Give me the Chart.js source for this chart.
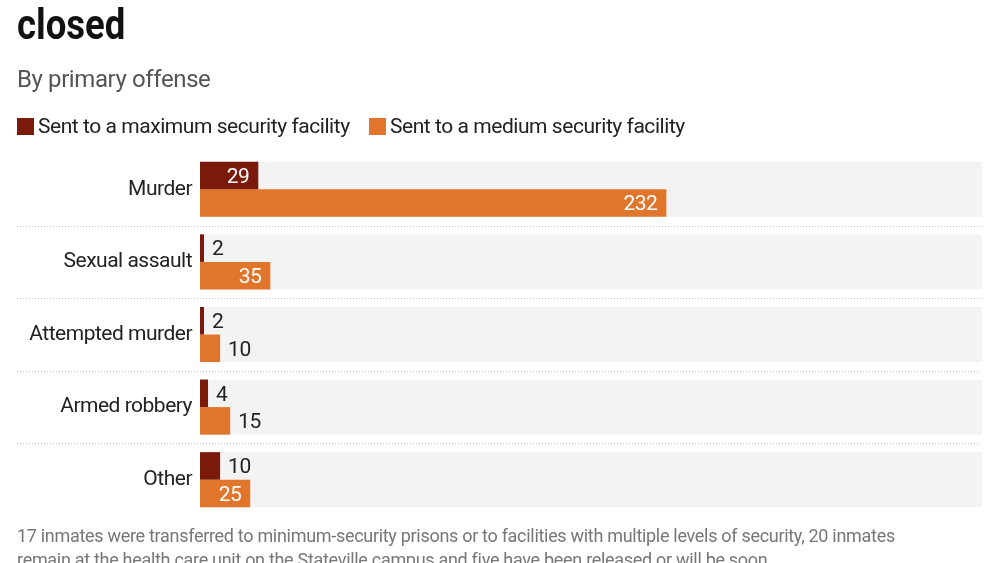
<!DOCTYPE html>
<html>
<head>
<meta charset="utf-8">
<script src="https://cdn.jsdelivr.net/npm/chart.js@4"></script>
<style>
  html, body { margin: 0; padding: 0; background: #fff; }
  body { width: 1000px; height: 563px; overflow: hidden; position: relative; font-family: "Roboto", sans-serif; }
  #chart { position: absolute; left: 0; top: 0; }
  .title { position: absolute; left: 17px; top: 0px; font-size: 42px; font-weight: bold; color: #111; transform: scaleX(0.87); transform-origin: left top; }
  .sub { position: absolute; left: 17px; top: 65px; font-size: 24px; letter-spacing: -0.4px; color: #555; }
  .legend { position: absolute; top: 114px; font-size: 21px; letter-spacing: -0.45px; color: #222; white-space: nowrap; }
  .legend span.box { display: inline-block; width: 17px; height: 17px; vertical-align: -2px; margin-right: 4px; }
  .note { position: absolute; left: 17px; top: 524px; width: 900px; font-size: 18px; letter-spacing: -0.3px; line-height: 24px; color: #777; }
</style>
</head>
<body>
<canvas id="chart" width="1000" height="563"></canvas>
<div class="title">closed</div>
<div class="sub">By primary offense</div>
<div class="legend" style="left:17px"><span class="box" style="background:#7b1a0b"></span>Sent to a maximum security facility</div>
<div class="legend" style="left:369px"><span class="box" style="background:#e0752b"></span>Sent to a medium security facility</div>
<div class="note">17 inmates were transferred to minimum-security prisons or to facilities with multiple levels of security, 20 inmates remain at the health care unit on the Stateville campus and five have been released or will be soon.</div>

<script>
    const offenses = ['Murder', 'Sexual assault', 'Attempted murder', 'Armed robbery', 'Other'];
    const maxSecurity = [29, 2, 2, 4, 10];
    const mediumSecurity = [232, 35, 10, 15, 25];

    const FONT = '"Roboto", sans-serif';

    // tighter letters, the original uses a condensed face
    const spacingPlugin = {
        id: 'spacing',
        beforeDraw(chart) { chart.ctx.letterSpacing = '-0.5px'; }
    };

    // gray bands + dotted separators
    const bandPlugin = {
        id: 'bands',
        beforeDatasetsDraw(chart) {
            const c = chart.ctx, a = chart.chartArea, y = chart.scales.y;
            const step = y.getPixelForValue(1) - y.getPixelForValue(0);
            const band = step * chart.options.datasets.bar.categoryPercentage;
            c.save();
            offenses.forEach((o, i) => {
                const cy = y.getPixelForValue(i);
                c.fillStyle = '#f3f3f3';
                c.fillRect(a.left, cy - band / 2, a.right - a.left, band);
                if (i < offenses.length - 1) {
                    c.strokeStyle = '#c8c8c8';
                    c.lineWidth = 1;
                    c.setLineDash([1, 2]);
                    c.beginPath();
                    c.moveTo(17, Math.round(cy + step / 2) + 0.5);
                    c.lineTo(a.right, Math.round(cy + step / 2) + 0.5);
                    c.stroke();
                }
            });
            c.restore();
        }
    };

    // value labels: inside in white when they fit, else to the right
    const labelPlugin = {
        id: 'vals',
        afterDatasetsDraw(chart) {
            const c = chart.ctx;
            c.save();
            c.font = '21px ' + FONT;
            c.textBaseline = 'middle';
            chart.data.datasets.forEach((ds, di) => {
                chart.getDatasetMeta(di).data.forEach((bar, i) => {
                    const txt = String(ds.data[i]);
                    const w = c.measureText(txt).width;
                    const bw = bar.x - bar.base;
                    if (bw > w + 14) {
                        c.fillStyle = '#fff';
                        c.textAlign = 'right';
                        c.fillText(txt, bar.x - 9, bar.y + 2);
                    } else {
                        c.fillStyle = '#222';
                        c.textAlign = 'left';
                        c.fillText(txt, bar.x + 8, bar.y + 2);
                    }
                });
            });
            c.restore();
        }
    };

    new Chart(document.getElementById('chart'), {
        type: 'bar',
        data: {
            labels: offenses,
            datasets: [
                { label: 'Sent to a maximum security facility', data: maxSecurity, backgroundColor: '#7b1a0b' },
                { label: 'Sent to a medium security facility', data: mediumSecurity, backgroundColor: '#e0752b' }
            ]
        },
        options: {
            indexAxis: 'y',
            responsive: false,
            animation: false,
            datasets: { bar: { barPercentage: 1, categoryPercentage: 0.759 } },
            layout: { padding: { top: 153, bottom: 47, right: 18, left: 0 } },
            plugins: { legend: { display: false }, tooltip: { enabled: false } },
            scales: {
                x: { display: false, min: 0, max: 389 },
                y: {
                    afterFit: s => { s.width = 200; },
                    grid: { display: false, drawTicks: false },
                    border: { display: false },
                    ticks: { color: '#222', padding: 8, font: { family: FONT, size: 21 } }
                }
            }
        },
        plugins: [spacingPlugin, bandPlugin, labelPlugin]
    });
</script>
</body>
</html>
